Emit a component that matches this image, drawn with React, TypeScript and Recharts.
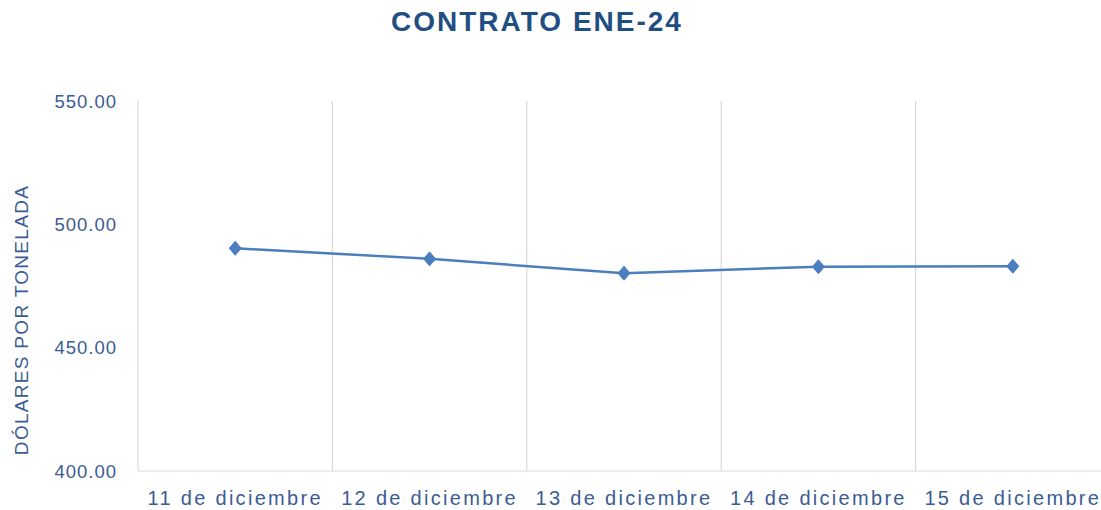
import { LineChart, Line, XAxis, YAxis, CartesianGrid } from "recharts";

const fechas = [
  "11 de diciembre",
  "12 de diciembre",
  "13 de diciembre",
  "14 de diciembre",
  "15 de diciembre",
];
const precios = [490.3, 486.0, 480.2, 482.8, 483.0];
const yTicks = [400, 450, 500, 550];

const data = fechas.map((fecha, i) => ({ fecha, precio: precios[i] }));

const TEXT_BLUE = "#3b5c94";
const LINE_BLUE = "#4a7ebf";
const GRID = "#d9d9d9";
const FONT = "'Liberation Sans', Arial, sans-serif";

// Diamond marker like the Excel one
const Diamond = (props: any) => {
  const { cx, cy } = props;
  if (cx == null || cy == null) return null;
  return (
    <path
      d={`M${cx},${cy - 7} L${cx + 6},${cy} L${cx},${cy + 7} L${cx - 6},${cy} Z`}
      fill={LINE_BLUE}
      stroke={LINE_BLUE}
      strokeWidth={1}
    />
  );
};

const YLabel = (props: any) => {
  const { viewBox } = props;
  const x = 21;
  const y = viewBox ? viewBox.y + viewBox.height / 2 + 34 : 320;
  return (
    <text
      x={x}
      y={y}
      transform={`rotate(-90, ${x}, ${y})`}
      textAnchor="middle"
      dominantBaseline="central"
      fill={TEXT_BLUE}
      fontSize={19}
      fontFamily={FONT}
      letterSpacing={1.3}
    >
      DÓLARES POR TONELADA
    </text>
  );
};

export default function App() {
  return (
    <div
      style={{
        position: "absolute",
        left: 0,
        top: 0,
        width: 1101,
        height: 510,
        overflow: "hidden",
        background: "#fff",
      }}
    >
      <div
        style={{
          position: "absolute",
          top: 7,
          left: 0,
          width: 1074,
          textAlign: "center",
          fontFamily: FONT,
          fontWeight: "bold",
          fontSize: 28,
          lineHeight: "30px",
          letterSpacing: 2,
          color: "#1f4e82",
        }}
      >
        CONTRATO ENE-24
      </div>
      <LineChart
        width={1120}
        height={510}
        data={data}
        margin={{ top: 101, right: 10, bottom: 0, left: 0 }}
      >
        <CartesianGrid
          horizontal={false}
          stroke={GRID}
          strokeWidth={1.2}
          verticalCoordinatesGenerator={({ offset }: any) =>
            [0, 1, 2, 3, 4, 5].map((i) => offset.left + (i * offset.width) / 5)
          }
        />
        <XAxis
          dataKey="fecha"
          scale="band"
          height={39}
          tickLine={false}
          tickSize={0}
          tickMargin={20}
          axisLine={{ stroke: GRID, strokeWidth: 1.2 }}
          tick={{ fill: TEXT_BLUE, fontSize: 20, fontFamily: FONT, letterSpacing: 2.3 }}
          interval={0}
        />
        <YAxis
          width={138}
          domain={[400, 550]}
          ticks={yTicks}
          axisLine={false}
          tickLine={false}
          tickSize={0}
          tickMargin={21}
          tickFormatter={(v: number) => v.toFixed(2)}
          tick={{ fill: TEXT_BLUE, fontSize: 18.5, fontFamily: FONT, letterSpacing: 1 }}
          label={<YLabel />}
        />
        <Line
          type="linear"
          dataKey="precio"
          stroke={LINE_BLUE}
          strokeWidth={2.5}
          dot={<Diamond />}
          activeDot={false}
          isAnimationActive={false}
        />
      </LineChart>
    </div>
  );
}
